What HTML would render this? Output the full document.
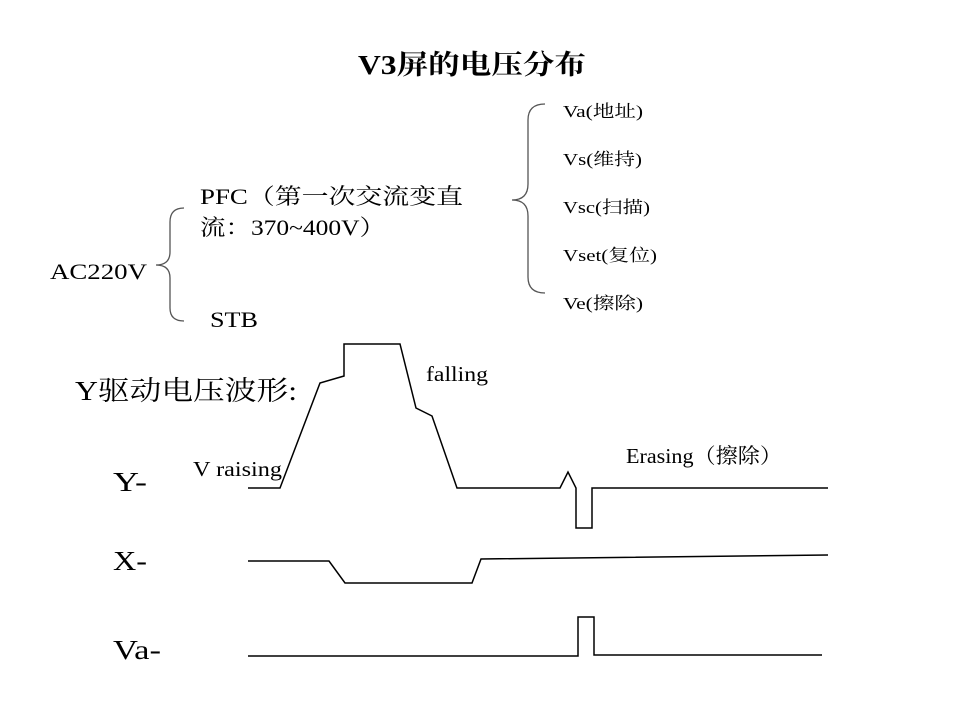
<!DOCTYPE html>
<html><head><meta charset="utf-8"><style>
body{margin:0;background:#fff;}
svg{display:block;}
text{font-family:"Liberation Serif","Noto Serif CJK SC","Noto Sans CJK SC",serif;fill:#000;}
</style></head><body>
<svg width="960" height="720" viewBox="0 0 960 720" xmlns="http://www.w3.org/2000/svg">
<rect width="960" height="720" fill="#fff"/>
<text x="358" y="74" font-size="27" font-weight="bold" textLength="228" lengthAdjust="spacingAndGlyphs">V3屏的电压分布</text>
<text x="50" y="279" font-size="22" textLength="97" lengthAdjust="spacingAndGlyphs">AC220V</text>
<text x="200" y="204" font-size="22" textLength="263" lengthAdjust="spacingAndGlyphs">PFC（第一次交流变直</text>
<text x="200" y="235" font-size="22" textLength="185" lengthAdjust="spacingAndGlyphs">流：370~400V）</text>
<text x="210" y="327" font-size="22" textLength="48" lengthAdjust="spacingAndGlyphs">STB</text>
<g font-size="17">
<text x="563" y="117" textLength="80" lengthAdjust="spacingAndGlyphs">Va(地址)</text>
<text x="563" y="165" textLength="79" lengthAdjust="spacingAndGlyphs">Vs(维持)</text>
<text x="563" y="213" textLength="87" lengthAdjust="spacingAndGlyphs">Vsc(扫描)</text>
<text x="563" y="261" textLength="94" lengthAdjust="spacingAndGlyphs">Vset(复位)</text>
<text x="563" y="309" textLength="80" lengthAdjust="spacingAndGlyphs">Ve(擦除)</text>
</g>
<g fill="none" stroke="#555" stroke-width="1.3">
<path d="M184,208 Q170,208 170,222 L170,252 Q170,265 156,265 Q170,265 170,278 L170,308 Q170,321 184,321"/>
<path d="M545,104 Q528,104 528,120 L528,184 Q528,200 512,200 Q528,200 528,216 L528,277 Q528,293 545,293"/>
</g>
<text x="75" y="400" font-size="27" textLength="222" lengthAdjust="spacingAndGlyphs">Y驱动电压波形:</text>
<text x="426" y="381" font-size="21" textLength="62" lengthAdjust="spacingAndGlyphs">falling</text>
<text x="193" y="476" font-size="21" textLength="89" lengthAdjust="spacingAndGlyphs">V raising</text>
<text x="626" y="463" font-size="21" textLength="156" lengthAdjust="spacingAndGlyphs">Erasing（擦除）</text>
<text x="113" y="491" font-size="27" textLength="34" lengthAdjust="spacingAndGlyphs">Y-</text>
<text x="113" y="570" font-size="27" textLength="34" lengthAdjust="spacingAndGlyphs">X-</text>
<text x="113" y="659" font-size="27" textLength="48" lengthAdjust="spacingAndGlyphs">Va-</text>
<g fill="none" stroke="#000" stroke-width="1.5">
<polyline points="248,488 280,488 320,383 344,376 344,344 400,344 416,408 432,416 457,488 560,488 568,472 576,488 576,528 592,528 592,488 828,488"/>
<polyline points="248,561 329,561 345,583 472,583 481,559 828,555"/>
<polyline points="248,656 578,656 578,617 594,617 594,655 822,655"/>
</g>
</svg>
</body></html>
